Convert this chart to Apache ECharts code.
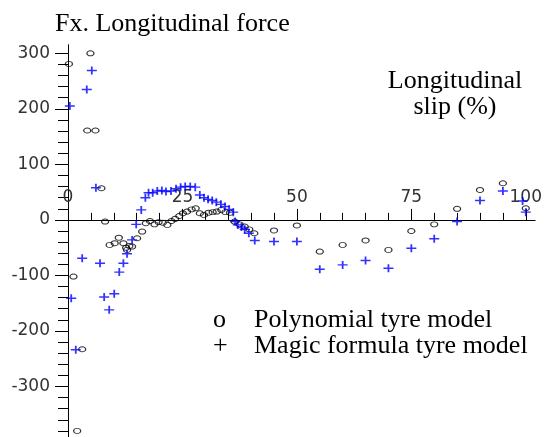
<!DOCTYPE html>
<html>
<head>
<meta charset="utf-8">
<script src="https://cdn.jsdelivr.net/npm/echarts@6/dist/echarts.min.js"></script>
<style>
  html, body { margin: 0; padding: 0; background: #fff; }
  #chart { width: 545px; height: 437px; }
</style>
</head>
<body>
<div id="chart"></div>
<script>
// Longitudinal slip (%) vs longitudinal force Fx, two tyre models
const polynomialPoints = [
  [0.2, 281], [1.2, -102], [2.0, -380], [3.1, -233], [4.2, 161], [4.9, 300],
  [6.0, 161], [7.3, 57], [8.1, -3], [9.1, -45], [10.2, -42], [11.1, -32],
  [12.1, -42], [12.7, -50], [12.9, -54], [13.4, -47], [14.0, -48], [15.1, -33],
  [16.2, -21], [17.0, -6], [17.9, -2], [18.9, -8], [19.8, -4], [20.7, -5],
  [21.7, -9], [22.6, -2], [23.4, 2], [24.3, 7], [25.1, 12], [26.0, 15],
  [27.0, 19], [27.9, 21], [28.8, 12], [29.7, 9], [30.7, 13], [31.6, 14],
  [32.5, 15], [33.5, 18], [34.4, 14], [35.4, 13], [36.4, -3], [37.5, -8],
  [38.6, -12], [39.6, -17], [40.7, -24], [45, -19], [50, -10], [55, -57],
  [60, -45], [65, -37], [70, -54], [75, -20], [80, -8], [85, 20],
  [90, 54], [95, 66], [100, 21]
];
const magicFormulaPoints = [
  [0.4, 205], [0.7, -141], [1.7, -234], [3.1, -69], [4.1, 235], [5.2, 269],
  [6.1, 58], [7.0, -78], [7.9, -139], [9.0, -162], [10.1, -133], [11.2, -94],
  [12.1, -78], [12.9, -61], [14.0, -36], [14.9, -8], [16.0, 18], [16.9, 40],
  [17.6, 49], [18.5, 49], [19.5, 52], [20.5, 53], [21.4, 51], [22.5, 52],
  [23.6, 56], [24.6, 59], [25.6, 60], [26.7, 60], [27.8, 59], [28.8, 45],
  [29.7, 40], [30.6, 37], [31.5, 35], [32.4, 32], [33.4, 28], [34.3, 24],
  [35.2, 19], [36.1, 14], [36.5, -3], [37.1, -9], [37.9, -13], [38.6, -17],
  [39.5, -24], [40.8, -37], [45, -39], [50, -39], [55, -89], [60, -81],
  [65, -73], [70, -87], [75, -51], [80, -34], [85, -3], [90, 35],
  [95, 52], [99.3, 34], [100, 14]
];
const seriesNames = ['Polynomial tyre model', 'Magic formula tyre model'];
const legendMarks = ['o', '+'];
const xMajorTicks = [0, 25, 50, 75, 100];
const xMinorTicks = [0, 5, 10, 15, 20, 25, 30, 35, 40, 45, 50, 55, 60, 65, 70, 75, 80, 85, 90, 95, 100];
const yMajorTicks = [-300, -200, -100, 0, 100, 200, 300];
const yMinorTicks = [-380, -360, -340, -320, -300, -280, -260, -240, -220, -200, -180, -160, -140, -120, -100,
  -80, -60, -40, -20, 0, 20, 40, 60, 80, 100, 120, 140, 160, 180, 200, 220, 240, 260, 280, 300];

const serif = "'Times New Roman', 'Liberation Serif', serif";
const sans = "'DejaVu Sans', Arial, sans-serif";

// force axis range and plot box
const yMin = -391, yMax = 315;
const gridTop = 45, gridBottom = 0, chartHeight = 437;
// the slip axis sits on Fx = 0: shift it up from the bottom of the plot box
const plotHeight = chartHeight - gridTop - gridBottom;
const xAxisOffset = -(plotHeight * (0 - yMin) / (yMax - yMin));

function slipAxis(ticks, tickLength, withLabels) {
  return {
    type: 'value', min: 0, max: 102, position: 'bottom',
    offset: xAxisOffset,
    axisLine: { show: true, onZero: false, lineStyle: { color: '#000', width: 1 } },
    splitLine: { show: false },
    axisTick: { show: true, inside: true, length: tickLength, customValues: ticks, lineStyle: { color: '#000', width: 1 } },
    axisLabel: withLabels
      ? { show: true, inside: true, margin: 14, customValues: ticks, fontFamily: sans, fontSize: 17, color: '#333' }
      : { show: false }
  };
}
function forceAxis(ticks, tickLength, withLabels) {
  return {
    type: 'value', min: yMin, max: yMax, position: 'left',
    axisLine: { show: true, onZero: false, lineStyle: { color: '#000', width: 1 } },
    splitLine: { show: false },
    axisTick: { show: true, inside: false, length: tickLength, customValues: ticks, lineStyle: { color: '#000', width: 1 } },
    axisLabel: withLabels
      ? { show: true, margin: 18, customValues: ticks, fontFamily: sans, fontSize: 17, color: '#333' }
      : { show: false }
  };
}

const chart = echarts.init(document.getElementById('chart'), null, { renderer: 'canvas' });
chart.setOption({
  animation: false,
  backgroundColor: '#fff',
  title: {
    text: 'Fx. Longitudinal force',
    left: 55, top: 11, padding: 0,
    textStyle: { fontFamily: serif, fontSize: 26, fontWeight: 'normal', color: '#000', lineHeight: 26 }
  },
  graphic: [{
    type: 'text',
    x: 455, y: 68,
    style: {
      text: 'Longitudinal\nslip (%)',
      align: 'center', verticalAlign: 'top',
      fontFamily: serif, fontSize: 26, lineHeight: 26, fill: '#000'
    }
  }],
  legend: {
    orient: 'vertical',
    left: 203, top: 302,
    itemWidth: 0, itemHeight: 0, itemGap: 0,
    icon: 'none',
    selectedMode: false,
    data: seriesNames,
    formatter: name => '{m|' + legendMarks[seriesNames.indexOf(name)] + '}{t|' + name + '}',
    textStyle: {
      fontFamily: serif, fontSize: 26, lineHeight: 25, color: '#000',
      rich: {
        m: { width: 41, fontFamily: serif, fontSize: 26, lineHeight: 25, color: '#000' },
        t: { fontFamily: serif, fontSize: 26, lineHeight: 25, color: '#000' }
      }
    }
  },
  grid: { left: 68, right: 10, top: gridTop, bottom: gridBottom, containLabel: false },
  xAxis: [slipAxis(xMajorTicks, 11, true), slipAxis(xMinorTicks, 7, false)],
  yAxis: [forceAxis(yMajorTicks, 13, true), forceAxis(yMinorTicks, 10, false)],
  series: [{
    name: seriesNames[0],
    type: 'scatter',
    data: polynomialPoints,
    symbol: 'circle',
    symbolSize: [7, 5],
    itemStyle: { color: 'rgba(0,0,0,0)', borderColor: '#000', borderWidth: 1.1 },
    emphasis: { disabled: true },
    z: 2
  }, {
    name: seriesNames[1],
    type: 'scatter',
    data: magicFormulaPoints,
    symbol: 'path://M0,4L10,4M5,0L5,8',
    symbolSize: [10, 8],
    itemStyle: { color: 'rgba(0,0,0,0)', borderColor: '#0000ff', borderWidth: 1.6 },
    emphasis: { disabled: true },
    z: 3
  }]
});
</script>
</body>
</html>
